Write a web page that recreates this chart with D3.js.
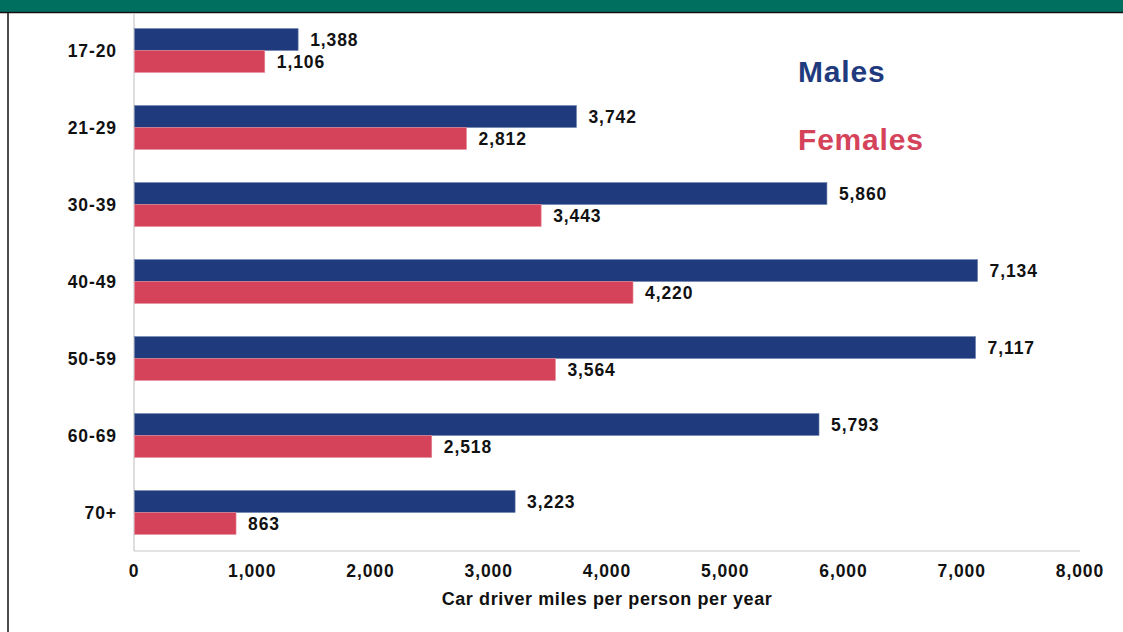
<!DOCTYPE html>
<html><head><meta charset="utf-8">
<script src="https://cdn.jsdelivr.net/npm/d3@7"></script>
<style>
html,body{margin:0;padding:0;background:#fff;}
svg{display:block;font-family:"Liberation Sans",Arial,sans-serif;}
</style></head>
<body>
<script>
const categories = ["17-20","21-29","30-39","40-49","50-59","60-69","70+"];
const males   = [1388, 3742, 5860, 7134, 7117, 5793, 3223];
const females = [1106, 2812, 3443, 4220, 3564, 2518, 863];
const seriesNames = ["Males","Females"];
const xTicks = [0,1000,2000,3000,4000,5000,6000,7000,8000];
const xTitle = "Car driver miles per person per year";
const colors = {Males:"#1F3B7E", Females:"#D5435B"};

const W = 1123, H = 632;
const svg = d3.select("body").append("svg").attr("width", W).attr("height", H);

// header band and frame
svg.append("rect").attr("x",0).attr("y",0).attr("width",W).attr("height",12).attr("fill","#006F5F");
svg.append("line").attr("x1",0).attr("x2",W).attr("y1",12.5).attr("y2",12.5).attr("stroke","#111").attr("stroke-width",1.5);
svg.append("line").attr("x1",8).attr("x2",8).attr("y1",12).attr("y2",H).attr("stroke","#111").attr("stroke-width",1.5);

const x = d3.scaleLinear().domain([0,8000]).range([134,1080]);
const y = d3.scaleBand().domain(categories).range([12,551]).paddingInner(0.43).paddingOuter(0.215);
const ys = d3.scaleBand().domain(seriesNames).range([0, y.bandwidth()]);

const data = categories.map((c,i)=>({cat:c, vals:[{s:"Males",v:males[i]},{s:"Females",v:females[i]}]}));

// axes lines
svg.append("line").attr("x1",x(0)).attr("x2",x(0)).attr("y1",13).attr("y2",551).attr("stroke","#C8C8C8").attr("stroke-width",1.2);
svg.append("line").attr("x1",x(0)).attr("x2",x(8000)).attr("y1",551).attr("y2",551).attr("stroke","#C8C8C8").attr("stroke-width",1.2);

const g = svg.selectAll("g.cat").data(data).join("g").attr("class","cat")
  .attr("transform", d=>`translate(0,${y(d.cat)})`);

g.selectAll("rect").data(d=>d.vals).join("rect")
  .attr("x", x(0)+0.5)
  .attr("y", d=>ys(d.s))
  .attr("width", d=>x(d.v)-x(0)-0.5)
  .attr("height", ys.bandwidth())
  .attr("fill", d=>colors[d.s])
  .attr("stroke", d=>d.s==="Males"?"#6F82AE":"#E48A98")
  .attr("stroke-width",0.6);

g.selectAll("text.val").data(d=>d.vals).join("text").attr("class","val")
  .attr("x", d=>x(d.v)+12)
  .attr("y", d=>ys(d.s)+ys.bandwidth()/2+6.5)
  .attr("font-size",17.5).attr("font-weight","bold").attr("letter-spacing","0.9px").attr("fill","#111")
  .text(d=>d3.format(",")(d.v));

// y labels
svg.selectAll("text.ylab").data(categories).join("text").attr("class","ylab")
  .attr("x",117).attr("y",d=>y(d)+y.bandwidth()/2+6.5)
  .attr("text-anchor","end")
  .attr("font-size",17.5).attr("font-weight","bold").attr("letter-spacing","0.9px").attr("fill","#111")
  .text(d=>d);

// x tick labels
svg.selectAll("text.xt").data(xTicks).join("text").attr("class","xt")
  .attr("x",d=>x(d)).attr("y",577)
  .attr("text-anchor","middle")
  .attr("font-size",17.5).attr("font-weight","bold").attr("letter-spacing","0.9px").attr("fill","#111")
  .text(d=>d3.format(",")(d));

svg.append("text").attr("x",(x(0)+x(8000))/2).attr("y",605).attr("text-anchor","middle")
  .attr("font-size",18).attr("font-weight","bold").attr("letter-spacing","0.6px").attr("fill","#111")
  .text(xTitle);

// legend
svg.selectAll("text.leg").data(seriesNames).join("text").attr("class","leg")
  .attr("x",798).attr("y",(d,i)=>82+i*68)
  .attr("font-size",30).attr("font-weight","bold").attr("letter-spacing","0.8px")
  .attr("fill",d=>colors[d]).text(d=>d);
</script>
</body></html>
